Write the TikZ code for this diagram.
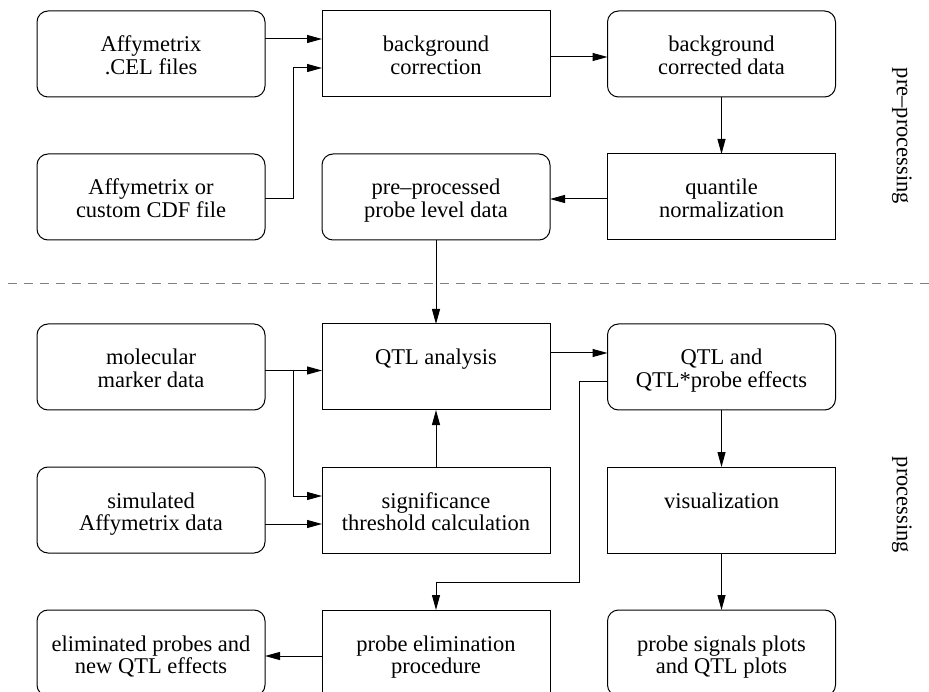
\documentclass[tikz,border=0pt]{standalone}
\usepackage{fontspec}
\setmainfont{Liberation Serif}
\usetikzlibrary{arrows.meta}
\newcommand\boxtext[2]{\parbox[c][86pt][t]{228pt}{\centering\rule{0pt}{41pt}#1\par #2\par}}
\begin{document}
\begin{tikzpicture}[x=1pt,y=-1pt, font=\fontsize{22.5}{22.3}\selectfont,
  base/.style={draw, line width=1pt, inner sep=0pt, outer sep=0pt},
  sqbox/.style={base},
  rbox/.style={base, rounded corners=11pt},
  arr/.style={line width=1pt, -{Triangle[length=15pt,width=8pt]}},
  sepline/.style={draw=gray, line width=1pt, dash pattern=on 9pt off 7pt},
  side/.style={rotate=-90, inner sep=0pt}]
\clip (0,0) rectangle (929,692);
% pre-processing
\node[rbox]  (cel) at (151,54)    {\boxtext{Affymetrix}{.CEL files}};
\node[sqbox] (bc)  at (436,54)    {\boxtext{background}{correction}};
\node[rbox]  (bcd) at (721.5,54)  {\boxtext{background}{corrected data}};
\node[rbox]  (cdf) at (151,197)   {\boxtext{Affymetrix or}{custom CDF file}};
\node[rbox]  (pp)  at (436,197)   {\boxtext{pre–processed}{probe level data}};
\node[sqbox] (qn)  at (721.5,197) {\boxtext{quantile}{normalization}};
% processing
\node[rbox]  (mol) at (151,367)   {\boxtext{molecular}{marker data}};
\node[sqbox] (qtl) at (436,367)   {\boxtext{QTL analysis}{}};
\node[rbox]  (qe)  at (721.5,367) {\boxtext{QTL and}{QTL*probe effects}};
\node[rbox]  (sim) at (151,510)   {\boxtext{simulated}{Affymetrix data}};
\node[sqbox] (sig) at (436,510)   {\boxtext{significance}{threshold calculation}};
\node[sqbox] (vis) at (721.5,510) {\boxtext{visualization}{}};
\node[rbox]  (elim) at (151,653)  {\boxtext{eliminated probes and}{new QTL effects}};
\node[sqbox] (pe)  at (436,653)   {\boxtext{probe elimination}{procedure}};
\node[rbox]  (psp) at (721.5,653) {\boxtext{probe signals plots}{and QTL plots}};
% side labels
\node[side] (lpre) at (902,136) {pre–processing};
\node[side] (lpro) at (902,505) {processing};
% separator
\coordinate (dl) at (8,284);
\coordinate (dr) at (929,284);
\draw[sepline] (dl) -- (dr);
% junctions
\coordinate (j1) at (293,68);
\coordinate (j2) at (293,370.5);
\coordinate (j3) at (579,582);
% connectors
\draw[arr] ([yshift=15pt]cel.east) -- ([yshift=15pt]bc.west);
\draw[arr] ([yshift=-2pt]cdf.east) -| (j1) -- ([yshift=-14pt]bc.west);
\draw[arr] ([yshift=-3pt]bc.east) -- ([yshift=-3pt]bcd.west);
\draw[arr] (bcd.south) -- (qn.north);
\draw[arr] ([yshift=-2pt]qn.west) -- ([yshift=-2pt]pp.east);
\draw[arr] (pp.south) -- (qtl.north);
\draw[arr] ([yshift=-3.5pt]mol.east) -- ([yshift=-3.5pt]qtl.west);
\draw[arr] (j2) |- ([yshift=14pt]sig.west);
\draw[arr] ([yshift=-14pt]sim.east) -- ([yshift=-14pt]sig.west);
\draw[arr] (sig.north) -- (qtl.south);
\draw[arr] ([yshift=14pt]qtl.east) -- ([yshift=14pt]qe.west);
\draw[arr] ([yshift=-15pt]qe.west) -| (j3) -| (pe.north);
\draw[arr] (qe.south) -- (vis.north);
\draw[arr] (vis.south) -- (psp.north);
\draw[arr] ([yshift=-3pt]pe.west) -- ([yshift=-3pt]elim.east);
\end{tikzpicture}
\end{document}
